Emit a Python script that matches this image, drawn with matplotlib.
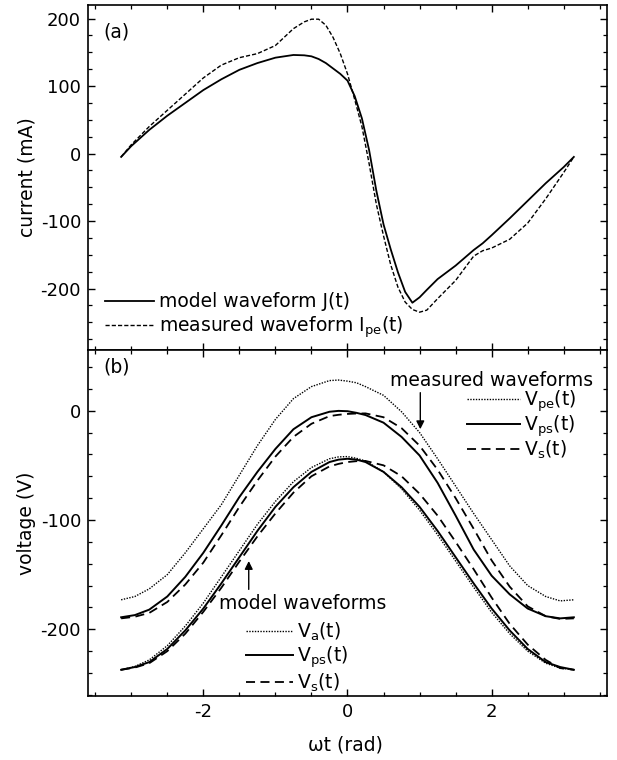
import matplotlib
matplotlib.use("Agg")
import matplotlib.pyplot as plt
from matplotlib.ticker import MultipleLocator

plt.rcParams['font.family'] = ['DejaVu Sans']
plt.rcParams['mathtext.fontset'] = 'dejavusans'
plt.rcParams['axes.unicode_minus'] = False

# (a) current waveforms
xa = [-3.14, -3.0, -2.75, -2.5, -2.25, -2.0, -1.75, -1.5, -1.25, -1.0, -0.75, -0.6, -0.5,
      -0.4, -0.3, -0.2, -0.1, 0.0, 0.1, 0.2, 0.3, 0.4, 0.5, 0.6, 0.7, 0.8, 0.9, 1.0,
      1.1, 1.25, 1.5, 1.75, 1.875, 2.0, 2.25, 2.5, 2.75, 3.0, 3.14]
J_model = [-5, 11, 35, 56, 75, 94, 110, 124, 134, 142, 146, 145.5, 144,
           140, 134, 126, 118, 108, 85, 52, 5, -55, -105, -142, -176, -205, -221, -213,
           -202, -186, -166, -143, -133, -121, -96, -70, -44, -20, -5]
Ipe_meas = [-5, 13, 40, 64, 88, 112, 131, 142, 148, 160, 185, 195, 199,
            199, 190, 172, 148, 118, 80, 40, -15, -75, -122, -165, -198, -220, -231, -235,
            -232, -215, -188, -152, -144, -140, -127, -103, -67, -28, -5]

# (b) voltage waveforms
xb = [-3.14, -2.95, -2.75, -2.5, -2.25, -2.0, -1.75, -1.5, -1.25, -1.0, -0.75, -0.5, -0.25,
      -0.125, 0.0, 0.125, 0.25, 0.5, 0.75, 1.0, 1.25, 1.5, 1.75, 2.0, 2.25, 2.5, 2.75,
      2.95, 3.14]
Vpe_meas = [-173, -170, -163, -150, -130, -108, -86, -59, -32, -8, 11, 22, 27.5,
            28, 27, 25.5, 22, 14, -1, -20, -44, -69, -94, -118, -142, -160, -170,
            -174, -173]
Vps_meas = [-189, -187, -182, -170, -152, -130, -105, -79, -56, -35, -17, -6, -1,
            -0.2, -0.5, -2, -4, -11, -24, -41, -66, -96, -127, -151, -168, -181, -188,
            -190, -189]
Vs_meas = [-190, -188.5, -185, -175, -159, -139, -114, -88, -64, -42, -24, -12, -5,
           -3.8, -3, -2.6, -2.5, -6, -16, -32, -54, -80, -108, -137, -161, -179, -188,
           -190.5, -190]
Va_model = [-237, -234, -228, -215, -197, -176, -152, -128, -104, -83, -65, -52, -44,
            -42.3, -42, -43.6, -46, -56, -71.5, -91, -113.5, -137.5, -161.5, -184.5, -204, -220, -231,
            -235.5, -237]
Vps_model = [-237, -234.5, -230, -218, -201, -181, -158, -134, -110, -88, -70, -56, -47,
             -44.8, -44, -44.8, -47, -56, -70, -88, -110, -134, -158, -181, -201, -218, -230,
             -234.5, -237]
Vs_model = [-237, -235, -231, -220, -204, -184, -162, -138, -115, -94, -75, -60, -51,
            -48.7, -47, -46.2, -46, -50, -60, -76, -96, -120, -145, -171, -195, -214, -228,
            -235.5, -237]

fs = 13.5
fig = plt.figure(figsize=(6.17, 7.6), dpi=100)
ax1 = fig.add_axes([0.1426, 0.5395, 0.8412, 0.4539])
ax2 = fig.add_axes([0.1426, 0.0842, 0.8412, 0.4553])

ax1.plot(xa, J_model, color='k', lw=1.3, label='model waveform J(t)')
ax1.plot(xa, Ipe_meas, color='k', lw=1.0, ls=(0, (3, 1.5)),
         label=r'measured waveform I$_{\rm pe}$(t)')
ax1.set_ylim(-291, 220)
ax1.set_ylabel('current (mA)', fontsize=fs)
ax1.yaxis.set_major_locator(MultipleLocator(100))
ax1.yaxis.set_minor_locator(MultipleLocator(25))
ax1.text(0.03, 0.922, '(a)', transform=ax1.transAxes, fontsize=fs, va='center')
ax1.legend(loc='lower left', bbox_to_anchor=(0.033, 0.03), frameon=False, fontsize=fs,
           handlelength=2.6, handletextpad=0.3, labelspacing=0.15, borderpad=0,
           borderaxespad=0)

l1, = ax2.plot(xb, Vpe_meas, color='k', lw=1.0, ls=(0, (1, 1)), label=r'V$_{\rm pe}$(t)')
l2, = ax2.plot(xb, Vps_meas, color='k', lw=1.4, label=r'V$_{\rm ps}$(t)')
l3, = ax2.plot(xb, Vs_meas, color='k', lw=1.3, ls=(0, (5, 3)), label=r'V$_{\rm s}$(t)')
m1, = ax2.plot(xb, Va_model, color='k', lw=1.0, ls=(0, (1, 1)), label=r'V$_{\rm a}$(t)')
m2, = ax2.plot(xb, Vps_model, color='k', lw=1.4, label=r'V$_{\rm ps}$(t)')
m3, = ax2.plot(xb, Vs_model, color='k', lw=1.3, ls=(0, (5, 3)), label=r'V$_{\rm s}$(t)')
ax2.set_ylim(-261, 55.5)
ax2.set_ylabel('voltage (V)', fontsize=fs)
ax2.set_xlabel('ωt (rad)', fontsize=fs)
ax2.yaxis.set_major_locator(MultipleLocator(100))
ax2.yaxis.set_minor_locator(MultipleLocator(20))
ax2.text(0.03, 0.951, '(b)', transform=ax2.transAxes, fontsize=fs, va='center')

leg_m = ax2.legend(handles=[l1, l2, l3], loc='upper right', bbox_to_anchor=(0.94, 0.89),
                   frameon=False, fontsize=fs, handlelength=2.8, handletextpad=0.2,
                   labelspacing=0.0, borderpad=0, borderaxespad=0)
ax2.add_artist(leg_m)
ax2.legend(handles=[m1, m2, m3], loc='lower left', bbox_to_anchor=(0.305, 0.005),
           frameon=False, fontsize=fs, handlelength=2.5, handletextpad=0.2,
           labelspacing=0.1, borderpad=0, borderaxespad=0)

ax2.text(2.0, 28, 'measured waveforms', fontsize=fs, ha='center', va='center')
ax2.annotate('', xy=(1.01, -19.5), xytext=(1.01, 19),
             arrowprops=dict(arrowstyle='-|>', color='k', lw=1.0, mutation_scale=12))
ax2.text(-0.62, -176, 'model waveforms', fontsize=fs, ha='center', va='center')
ax2.annotate('', xy=(-1.37, -135), xytext=(-1.37, -166),
             arrowprops=dict(arrowstyle='-|>', color='k', lw=1.0, mutation_scale=12))

for ax in (ax1, ax2):
    ax.set_xlim(-3.6, 3.6)
    ax.xaxis.set_major_locator(MultipleLocator(2))
    ax.xaxis.set_minor_locator(MultipleLocator(0.5))
    ax.tick_params(which='both', direction='in', top=True, right=True, labelsize=13)
    ax.tick_params(which='major', length=5, width=1.0, pad=5)
    ax.tick_params(which='minor', length=3, width=0.9)
    for sp in ax.spines.values():
        sp.set_linewidth(1.2)
    ax.yaxis.set_label_coords(-0.10, 0.5)
ax1.tick_params(labelbottom=False)
ax2.xaxis.set_label_coords(0.497, -0.115)

fig.savefig('out.png', dpi=100)
